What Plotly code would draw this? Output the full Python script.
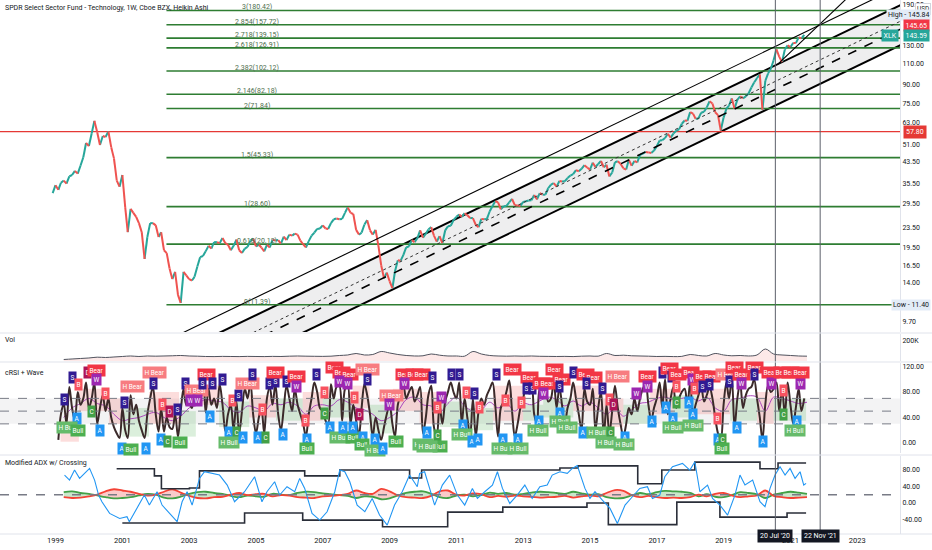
import numpy as np
import pandas as pd
import plotly.graph_objects as go

# ---- XLK weekly Heikin Ashi (one value per month) ----
price_start = '1998-12-01'
price = [32.5,
         35.0, 33.5, 35.8, 36.5, 35.5, 38.0, 38.5, 40.0, 39.0, 42.0, 45.5, 52.0,
         50.5, 57.0, 64.0, 57.5, 51.0, 55.5, 55.0, 58.0, 50.0, 45.0, 36.5, 34.5,
         38.5, 28.5, 22.5, 28.0, 27.0, 26.0, 24.5, 22.5, 17.5, 21.5, 24.5, 24.5,
         24.0, 21.5, 22.5, 19.0, 18.5, 16.0, 14.5, 15.5, 12.5, 11.6, 15.5, 15.0,
         14.5, 14.3, 14.8, 16.3, 17.8, 18.0, 18.8, 19.8, 19.3, 20.5, 20.5, 20.3,
         21.3, 20.3, 20.0, 19.0, 19.8, 21.0, 19.0, 18.5, 19.3, 19.6, 20.8, 21.2,
         19.7, 20.0, 19.5, 18.8, 20.0, 19.5, 21.0, 20.8, 20.9, 20.2, 21.6, 20.9,
         22.0, 21.8, 22.2, 22.0, 20.8, 20.1, 19.5, 20.7, 21.8, 22.4, 23.2, 23.3,
         24.0, 23.3, 23.2, 24.5, 25.4, 25.6, 25.4, 25.5, 27.0, 28.4, 27.0, 26.7,
         23.0, 22.0, 22.4, 24.2, 25.2, 22.9, 22.0, 23.0, 19.8, 16.5, 14.6, 15.4,
         14.2, 13.3, 15.6, 17.3, 17.2, 18.2, 19.5, 19.7, 20.9, 20.5, 21.3, 22.9,
         21.4, 22.2, 23.1, 23.6, 21.8, 20.6, 21.7, 20.3, 22.9, 23.8, 23.9, 25.2,
         26.0, 26.6, 26.0, 26.9, 26.4, 25.7, 25.7, 24.1, 23.6, 25.5, 25.4, 25.5,
         27.4, 28.8, 30.1, 29.8, 27.9, 28.7, 28.8, 29.8, 30.8, 29.0, 28.9, 28.8,
         29.9, 30.1, 30.3, 30.4, 31.9, 30.6, 32.5, 32.0, 32.0, 34.0, 35.2, 35.7,
         34.5, 36.4, 36.2, 36.3, 37.4, 38.3, 38.8, 40.3, 39.9, 40.8, 42.2, 41.3,
         40.5, 43.2, 41.5, 42.7, 43.9, 41.4, 42.4, 38.0, 39.4, 43.4, 43.8, 42.8,
         41.0, 40.5, 44.4, 42.0, 43.9, 43.3, 46.5, 47.1, 47.8, 47.6, 47.3, 48.4,
         50.4, 53.3, 53.3, 54.5, 56.7, 54.7, 56.8, 58.3, 59.1, 62.3, 64.2, 64.0,
         69.5, 68.5, 65.3, 65.5, 69.1, 69.7, 72.6, 76.9, 75.3, 69.4, 67.5, 58.5,
         66.0, 71.8, 73.8, 79.0, 71.7, 78.1, 80.5, 79.1, 80.5, 82.7, 87.5, 91.7,
         95.5, 99.0, 71.0, 93.2, 99.7, 104.5, 113.0, 125.3, 116.7, 111.3, 125.0, 130.0,
         128.0, 133.0, 132.8, 140.0, 138.8, 143.6]

# Fibonacci extension levels
fib_ratio = ['3', '2.854', '2.718', '2.618', '2.382', '2.146', '2', '1.5', '1', '0.618', '0']
fib_price = [180.42, 157.72, 139.15, 126.91, 102.12, 82.18, 71.84, 45.33, 28.60, 20.12, 11.39]
fib_start = '2002-04-28'
fib_label_date = '2005-01-08'
red_level = 57.80

# price axis ticks
price_ticks = [9.70, 14.00, 16.50, 19.50, 23.50, 29.50, 35.50, 43.50, 51.00, 63.00,
               75.00, 90.00, 110.00, 130.00, 190.00]

# regression channel (anchor dates / prices of the drawing)
chan_dates = ['2003-04-23', '2025-10-13']
chan_upper = [8.0, 237.3]
chan_lower = [5.49, 162.9]
chan_dotted = [6.88, 204.1]
chan_dashed = [6.38, 189.3]
outer_dates = ['2002-05-31', '2025-10-13']
outer_price = [8.24, 284.1]
steep_dates = ['2020-08-17', '2023-09-07']
steep_price = [109.0, 271.8]

marker_dates = ['2020-07-20', '2021-11-22']
marker_text = ["20 Jul '20", "22 Nov '21"]

# ---- Volume (quarterly, thousands) ----
vol_k = [15, 20, 25,
         30, 38, 35, 40, 45, 50, 45, 50, 48, 50, 52, 55, 50, 48, 45, 44,
         46, 45, 44, 46, 45, 44, 46, 45, 48, 50, 48, 47, 46, 48, 55, 60,
         75, 60, 65, 95, 80, 65, 55, 50, 52, 70, 58, 50, 50, 48, 95, 70,
         55, 50, 48, 50, 48, 50, 47, 46, 45, 46, 44, 48, 50, 48, 75, 55,
         58, 52, 50, 48, 45, 46, 44, 46, 65, 55, 50, 75, 60, 52, 55, 50,
         60, 120, 70, 60, 55, 50, 48]

# ---- cRSI (monthly) ----
crsi_start = '1999-02-01'
crsi = [5, 45, 62, 30, 88, 55, 35, 80, 60, 70, 95,
        55, 70, 95, 30, 55, 75, 50, 70, 40, 25, 15, 8,
        55, 20, 8, 75, 45, 60, 35, 20, 8, 45, 70, 88,
        45, 18, 55, 18, 40, 25, 22, 45, 10, 50, 85, 60,
        62, 55, 72, 60, 88, 92, 48, 85, 60, 70, 55, 92,
        60, 18, 45, 60, 20, 65, 15, 50, 85, 70, 95, 45,
        15, 40, 55, 15, 70, 88, 60, 92, 45, 20, 55, 90,
        70, 50, 85, 60, 45, 30, 10, 45, 70, 95, 80, 55,
        50, 35, 30, 92, 70, 88, 90, 35, 85, 92, 30, 60,
        35, 12, 55, 92, 75, 45, 10, 40, 20, 5, 25, 45,
        60, 30, 10, 60, 75, 90, 70, 80, 88, 65, 75, 88,
        15, 40, 75, 90, 25, 10, 60, 30, 65, 80, 95, 80,
        70, 95, 30, 70, 40, 10, 70, 10, 50, 70, 60, 75,
        85, 95, 60, 10, 55, 65, 80, 98, 50, 10, 30, 55,
        70, 88, 85, 88, 45, 30, 85, 80, 88, 65, 70, 98,
        55, 88, 60, 30, 55, 70, 95, 70, 45, 20, 85, 65,
        60, 85, 20, 55, 80, 10, 60, 15, 50, 90, 55, 30,
        10, 30, 55, 45, 70, 50, 70, 85, 92, 60, 35, 55,
        70, 95, 55, 100, 45, 70, 88, 55, 70, 80, 85, 60,
        95, 45, 60, 75, 90, 65, 75, 88, 70, 40, 15, 5,
        60, 95, 70, 100, 25, 70, 95, 55, 75, 85, 88, 100,
        70, 40, 5, 60, 90, 80, 85, 95, 50, 85, 45, 95,
        60, 30, 55, 85, 50, 70]

# purple average (quarterly)
crsi_avg = [40, 55, 62,
            70, 62, 58, 45, 35, 38, 40, 45, 48, 40, 35, 42, 55, 62, 68, 66,
            64, 52, 48, 58, 55, 50, 62, 60, 64, 58, 45, 58, 60, 58, 68, 64,
            55, 52, 45, 35, 40, 50, 68, 72, 60, 58, 48, 62, 72, 58, 50, 52,
            64, 55, 62, 50, 62, 60, 66, 72, 68, 58, 66, 58, 64, 55, 45, 55,
            42, 52, 62, 64, 70, 72, 68, 70, 72, 66, 72, 55, 50, 68, 70, 74,
            72, 50, 72, 70, 66, 62, 64]

# wave band segments (decimal years)
band_start = [1999.15, 1999.70, 2000.60, 2001.00, 2001.80, 2002.70, 2003.20, 2003.90,
              2004.80, 2005.60, 2006.40, 2007.00, 2007.90, 2008.40, 2009.10, 2009.90,
              2010.50, 2011.10, 2012.10, 2013.00, 2013.60, 2014.50, 2015.40, 2016.00,
              2016.80, 2017.50, 2018.20, 2019.20, 2020.00, 2020.50]
band_end = [1999.70, 2000.60, 2001.00, 2001.80, 2002.70, 2003.20, 2003.90, 2004.80,
            2005.60, 2006.40, 2007.00, 2007.90, 2008.40, 2009.10, 2009.90, 2010.50,
            2011.10, 2012.10, 2013.00, 2013.60, 2014.50, 2015.40, 2016.00, 2016.80,
            2017.50, 2018.20, 2019.20, 2020.00, 2020.50, 2021.47]
band_top = [35, 85, 70, 55, 80, 50, 90, 65, 75, 70, 80, 70, 90, 60, 85,
            80, 65, 55, 90, 60, 70, 90, 70, 60, 85, 75, 85, 70, 80, 70]
band_bot = [2, 50, 30, 10, 30, 10, 60, 25, 40, 35, 35, 40, 55, 15, 50,
            30, 25, 20, 35, 35, 40, 50, 25, 30, 45, 40, 45, 35, 30, 35]
band_kind = ['r', 'r', 'r', 'g', 'r', 'g', 'r', 'g', 'r', 'g', 'r', 'g', 'r', 'g', 'r',
             'r', 'g', 'g', 'r', 'g', 'g', 'r', 'r', 'g', 'r', 'g', 'r', 'g', 'r', 'g']

# signal labels on cRSI (decimal year, level, text)
sig_year = [1999.27, 1999.51, 1999.69, 1999.96, 2000.23, 2000.23, 2000.50, 2000.08, 1999.63, 1999.33,
            1999.66, 2000.32, 2001.07, 2001.30, 2001.00, 2001.27, 2001.72, 2001.96, 2001.93, 2002.20,
            2002.41, 2002.65, 2002.17, 2002.35, 2002.74, 2002.89, 2003.22, 2003.04, 2003.25, 2003.52,
            2003.40, 2003.70, 2003.61, 2004.00, 2004.30, 2004.48, 2004.75, 2004.90, 2005.20, 2004.18,
            2004.42, 2004.18, 2004.60, 2005.05, 2005.29, 2005.41, 2005.59, 2005.59, 2005.92, 2006.22,
            2006.22, 2005.80, 2006.49, 2006.52, 2006.52, 2006.82, 2007.06, 2007.06, 2007.21, 2007.36,
            2007.57, 2007.81, 2007.51, 2007.75, 2007.96, 2008.11, 2007.51, 2007.90, 2007.60, 2007.90,
            2008.20, 2008.17, 2008.35, 2008.35, 2008.56, 2008.56, 2008.79, 2009.06, 2009.00, 2009.18,
            2009.45, 2009.75, 2009.45, 2009.99, 2009.96, 2010.29, 2010.56, 2010.44, 2010.11, 2010.44,
            2010.50, 2010.11, 2010.86, 2011.10, 2011.31, 2011.55, 2011.70, 2011.19, 2011.16, 2011.46,
            2011.64, 2012.21, 2012.69, 2012.48, 2012.96, 2012.39, 2012.36, 2012.84, 2012.84, 2013.20,
            2013.11, 2013.29, 2013.56, 2013.74, 2013.62, 2013.95, 2014.16, 2014.10, 2014.52, 2013.47,
            2013.44, 2014.10, 2014.10, 2014.31, 2014.88, 2015.12, 2014.91, 2015.36, 2014.79, 2015.21,
            2015.60, 2015.48, 2015.57, 2015.69, 2015.81, 2016.04, 2016.01, 2016.40, 2016.73, 2016.73,
            2016.85, 2017.18, 2017.39, 2017.45, 2017.63, 2017.60, 2017.27, 2017.60, 2017.48, 2017.48,
            2018.02, 2018.08, 2018.14, 2017.96, 2018.08, 2018.08, 2018.38, 2018.65, 2018.38, 2018.59,
            2019.13, 2019.19, 2019.34, 2019.55, 2019.55, 2019.94, 2019.94, 2020.39, 2020.42, 2018.83,
            2018.83, 2018.98, 2018.95, 2019.40, 2020.18, 2020.78, 2020.78, 2020.75, 2020.99, 2021.29,
            2021.20, 2021.14, 2021.29]
sig_val = [69, 102, 91, 110, 114, 100, 78, 49, 38, 24,
           20, 20, 64, 89, -9, -11, -8, 110, 94, 60,
           49, 53, 5, 3, 0, 94, 83, 66, 66, 107,
           93, 93, 41, 99, 66, 74, 93, 107, 53, 16,
           16, 0, 8, 9, 9, 93, 97, 111, 97, 105,
           88, 13, 35, 5, -9, 108, 80, 47, 25, 119,
           111, 108, 96, 93, 71, 44, 9, 8, 24, 24,
           9, -3, 115, 99, 5, -12, -9, 74, 60, 3,
           107, 107, 93, -3, 107, 102, 71, 55, 16, 11,
           -5, -5, 107, 108, 80, 78, 56, 28, 13, 2,
           6, 108, 116, 67, 63, 5, -9, 5, -9, 102,
           85, 85, 94, 94, 78, 116, 100, 89, 110, 33,
           19, 47, 33, 25, 107, 102, 93, 85, 17, 17,
           17, 0, 69, 60, 104, 9, -3, 78, 104, 88,
           33, 110, 117, 104, 108, 89, 56, 63, 39, 24,
           110, 99, 86, 63, 44, 28, 105, 105, 89, 91,
           108, 96, 119, 108, 94, 119, 107, 110, 94, 38,
           5, 5, -9, 24, 2, 83, 44, 110, 110, 93,
           33, 19, 110]
sig_txt = ['S', 'S', 'B', 'D', 'Bear', 'W', 'B', 'C', 'A', 'H Bull',
           'Bull', 'A', 'S', 'H Bear', 'A', 'Bull', 'A', 'H Bear', 'S', 'B',
           'D', 'S', 'A', 'C', 'Bull', 'S', 'H Bear', 'W', 'W', 'Bear',
           'S', 'S', 'A', 'S', 'B', 'S', 'H Bear', 'S', 'B', 'A',
           'C', 'H Bull', 'A', 'A', 'C', 'S', 'S', 'Bear', 'S', 'Bear',
           'W', 'A', 'B', 'A', 'Bull', 'S', 'B', 'C', 'A', 'Bear',
           'Bear', 'Bear', 'W', 'W', 'B', 'D', 'H Bull', 'Bull', 'A', 'A',
           'A', 'Bull', 'H Bear', 'S', 'A', 'H Bull', 'A', 'H Bear', 'W', 'Bull',
           'Bear', 'Bear', 'W', 'H Bull', 'Bear', 'S', 'W', 'B', 'A', 'C',
           'Bull', 'H Bull', 'S', 'S', 'B', 'S', 'B', 'A', 'H Bull', 'A',
           'A', 'S', 'Bear', 'B', 'B', 'A', 'H Bull', 'A', 'H Bull', 'Bear',
           'S', 'S', 'Bear', 'Bear', 'W', 'Bear', 'Bear', 'S', 'S', 'A',
           'H Bull', 'A', 'H Bull', 'H Bull', 'Bear', 'Bear', 'S', 'S', 'A', 'H Bull',
           'C', 'H Bull', 'B', 'D', 'H Bear', 'A', 'H Bull', 'W', 'Bear', 'W',
           'A', 'S', 'Bear', 'S', 'Bear', 'B', 'A', 'C', 'A', 'H Bull',
           'Bear', 'W', 'B', 'A', 'A', 'H Bull', 'Bear', 'Bear', 'S', 'S',
           'H Bear', 'S', 'Bear', 'Bear', 'W', 'Bear', 'S', 'Bear', 'W', 'B',
           'A', 'C', 'Bull', 'A', 'A', 'B', 'C', 'Bear', 'Bear', 'W',
           'A', 'H Bull', 'Bear']

# ---- Modified ADX w/ Crossing ----
adx_year = [1999.27, 1999.42, 1999.57, 1999.72, 1999.87, 2000.02, 2000.17, 2000.29, 2000.39, 2000.62,
            2000.92, 2001.14, 2001.21, 2001.44, 2001.66, 2001.81, 2002.04, 2002.19, 2002.41, 2002.64,
            2002.79, 2002.94, 2003.09, 2003.31, 2003.46, 2003.69, 2003.91, 2004.14, 2004.36, 2004.66,
            2004.96, 2005.18, 2005.33, 2005.56, 2005.71, 2005.93, 2006.16, 2006.31, 2006.46, 2006.68,
            2006.91, 2007.13, 2007.36, 2007.51, 2007.66, 2007.81, 2008.03, 2008.26, 2008.48, 2008.70,
            2008.93, 2009.15, 2009.38, 2009.60, 2009.83, 2009.90, 2010.05, 2010.20, 2010.35, 2010.58,
            2010.80, 2011.03, 2011.25, 2011.48, 2011.63, 2011.85, 2012.08, 2012.23, 2012.38, 2012.60,
            2012.82, 2013.05, 2013.27, 2013.50, 2013.72, 2013.87, 2014.10, 2014.32, 2014.47, 2014.62,
            2014.85, 2015.00, 2015.15, 2015.37, 2015.60, 2015.82, 2016.05, 2016.27, 2016.49, 2016.72,
            2016.87, 2017.09, 2017.24, 2017.47, 2017.77, 2017.99, 2018.14, 2018.29, 2018.52, 2018.67,
            2018.89, 2019.12, 2019.34, 2019.49, 2019.64, 2019.87, 2020.09, 2020.24, 2020.39, 2020.54,
            2020.69, 2020.84, 2020.99, 2021.14, 2021.29, 2021.40, 2021.47]
adx_blue = [67, 55, 79, 59, 71, 83, 55, 19, 3, -25,
            -37, -33, -45, -13, 19, -5, 27, -5, -25, -45,
            3, 27, -5, 59, 75, 71, 67, 43, 3, 27,
            63, 3, 27, 51, 19, 39, 27, 59, 35, -25,
            -41, -21, 27, 79, 75, 51, -5, -21, 11, -29,
            -53, -5, 27, 67, 39, 71, 75, 35, -5, 43,
            67, 19, -5, 35, 11, 27, 43, 75, 35, -1,
            19, 43, 11, 39, 43, 67, 75, 71, 83, 90,
            35, 11, 27, 7, -13, -49, -5, 15, 35, 39,
            11, 19, 63, 87, 95, 79, 99, 27, 43, 11,
            -5, -29, 19, 67, 43, 55, 3, -9, 35, 67,
            87, 67, 83, 59, 75, 43, 47]

env_up_year = [2000.83, 2001.96, 2002.17, 2003.01, 2003.31, 2006.46, 2007.51, 2009.60, 2009.96,
               2014.10, 2014.64, 2016.43, 2017.15, 2018.14, 2020.09, 2020.63, 2021.47]
env_up = [82, 65, 34, 36, 77, 65, 79, 60, 79, 84, 89, 46, 79, 98, 82, 96, 96]
env_lo_year = [2001.00, 2004.66, 2006.40, 2008.79, 2010.74, 2012.39, 2014.91, 2015.55,
               2017.60, 2018.89, 2020.90, 2021.47]
env_lo = [-48, -24, -41, -57, -22, -10, 0, -52, 2, -34, -24, -24]

# red / green directional lines (quarterly)
di_red = [14, 12, 13,
          16, 20, 28, 33, 30, 27, 22, 18, 20, 27, 33, 25, 17, 12, 11, 14,
          15, 20, 24, 19, 21, 22, 16, 19, 18, 14, 13, 12, 16, 17, 19, 22,
          30, 24, 22, 34, 28, 18, 14, 13, 12, 17, 28, 30, 20, 18, 23, 21,
          14, 17, 15, 18, 16, 15, 13, 14, 15, 17, 13, 16, 18, 16, 24, 31,
          29, 19, 14, 17, 14, 12, 13, 12, 14, 20, 16, 22, 24, 18, 14, 16,
          18, 30, 17, 14, 12, 13, 14]
di_green = [26, 28, 24,
            22, 18, 14, 11, 12, 14, 18, 22, 20, 13, 11, 15, 22, 26, 27, 24,
            22, 17, 14, 18, 16, 15, 22, 20, 19, 24, 27, 26, 23, 21, 19, 17,
            12, 16, 15, 9, 11, 18, 24, 27, 28, 22, 14, 12, 18, 20, 16, 19,
            25, 22, 24, 20, 22, 25, 27, 26, 24, 22, 27, 23, 20, 21, 14, 11,
            12, 18, 24, 21, 26, 29, 28, 27, 24, 16, 21, 15, 14, 19, 26, 24,
            21, 12, 20, 24, 27, 25, 22]

label_colors = {'Bear': '#f23645', 'H Bear': '#f77c80', 'Bull': '#4caf50', 'H Bull': '#66bb6a',
                'A': '#2196f3', 'S': '#311b92', 'B': '#f7525f', 'C': '#43a047',
                'W': '#9c27b0', 'D': '#ad1457'}


def yr2dt(y):
    return pd.Timestamp('1999-01-01') + pd.to_timedelta((y - 1999) * 365.25, unit='D')


fig = go.Figure()

# ---- main pane ----
fig.add_trace(go.Scatter(x=chan_dates, y=chan_lower, mode='lines',
                         line=dict(color='black', width=2), yaxis='y'))
fig.add_trace(go.Scatter(x=chan_dates, y=chan_upper, mode='lines', fill='tonexty',
                         fillcolor='rgba(120,123,134,0.13)',
                         line=dict(color='black', width=2), yaxis='y'))

for r, p in zip(fib_ratio, fib_price):
    fig.add_trace(go.Scatter(x=[fib_start, '2024-12-31'], y=[p, p], mode='lines',
                             line=dict(color='#2e7d32', width=1.6), yaxis='y'))
fig.add_trace(go.Scatter(x=['1997-01-01', '2024-12-31'], y=[red_level, red_level], mode='lines',
                         line=dict(color='#e53935', width=1.2), yaxis='y'))

# price: up segments teal, down segments red
p_dates = pd.date_range(price_start, periods=len(price), freq='MS')
up_x, up_y, dn_x, dn_y = [], [], [], []
for i in range(1, len(price)):
    seg_x = [p_dates[i - 1], p_dates[i], None]
    seg_y = [price[i - 1], price[i], None]
    if price[i] >= price[i - 1]:
        up_x += seg_x
        up_y += seg_y
    else:
        dn_x += seg_x
        dn_y += seg_y
fig.add_trace(go.Scatter(x=up_x, y=up_y, mode='lines', line=dict(color='#26a69a', width=2), yaxis='y'))
fig.add_trace(go.Scatter(x=dn_x, y=dn_y, mode='lines', line=dict(color='#ef5350', width=2), yaxis='y'))

fig.add_trace(go.Scatter(x=chan_dates, y=chan_dotted, mode='lines',
                         line=dict(color='#333333', width=1, dash='dot'), yaxis='y'))
fig.add_trace(go.Scatter(x=chan_dates, y=chan_dashed, mode='lines',
                         line=dict(color='black', width=1.6, dash='dash'), yaxis='y'))
fig.add_trace(go.Scatter(x=outer_dates, y=outer_price, mode='lines',
                         line=dict(color='black', width=1.1), yaxis='y'))
fig.add_trace(go.Scatter(x=steep_dates, y=steep_price, mode='lines',
                         line=dict(color='black', width=1.1), yaxis='y'))

# ---- volume pane ----
q_dates = pd.date_range('1999-04-01', periods=len(vol_k), freq='QS')
fig.add_trace(go.Scatter(x=q_dates, y=[v * 1000 for v in vol_k], mode='lines', fill='tozeroy',
                         fillcolor='rgba(239,83,80,0.13)', line=dict(color='#50535e', width=1),
                         line_shape='spline', yaxis='y2'))

# ---- cRSI pane ----
fig.add_trace(go.Bar(x=[yr2dt((s + e) / 2) for s, e in zip(band_start, band_end)],
                     y=[t - b for t, b in zip(band_top, band_bot)], base=band_bot,
                     width=[(e - s) * 365.25 * 86400000 for s, e in zip(band_start, band_end)],
                     marker=dict(color=['rgba(239,83,80,0.2)' if k == 'r' else 'rgba(76,175,80,0.2)'
                                        for k in band_kind], line=dict(width=0)),
                     yaxis='y3'))
avg_dates = pd.date_range('1999-04-01', periods=len(crsi_avg), freq='QS')
fig.add_trace(go.Scatter(x=avg_dates, y=crsi_avg, mode='lines', line_shape='spline',
                         line=dict(color='#ab47bc', width=1), yaxis='y3'))
c_dates = pd.date_range(crsi_start, periods=len(crsi), freq='MS')
fig.add_trace(go.Scatter(x=c_dates, y=crsi, mode='lines', line_shape='spline',
                         line=dict(color='#3b2a2a', width=2), yaxis='y3'))

# ---- ADX pane ----
d_dates = pd.date_range('1999-04-01', periods=len(di_red), freq='QS')
di_max = [max(r, g) for r, g in zip(di_red, di_green)]
fig.add_trace(go.Scatter(x=d_dates, y=di_green, mode='lines', line=dict(width=0), line_shape='spline', yaxis='y4'))
fig.add_trace(go.Scatter(x=d_dates, y=di_max, mode='lines', line=dict(width=0), line_shape='spline',
                         fill='tonexty', fillcolor='rgba(239,83,80,0.3)', yaxis='y4'))
fig.add_trace(go.Scatter(x=d_dates, y=di_red, mode='lines', line=dict(width=0), line_shape='spline', yaxis='y4'))
fig.add_trace(go.Scatter(x=d_dates, y=di_max, mode='lines', line=dict(width=0), line_shape='spline',
                         fill='tonexty', fillcolor='rgba(76,175,80,0.3)', yaxis='y4'))
fig.add_trace(go.Scatter(x=d_dates, y=di_green, mode='lines', line_shape='spline',
                         line=dict(color='#43a047', width=1.8), yaxis='y4'))
fig.add_trace(go.Scatter(x=d_dates, y=di_red, mode='lines', line_shape='spline',
                         line=dict(color='#f44336', width=1.8), yaxis='y4'))
fig.add_trace(go.Scatter(x=[yr2dt(y) for y in env_up_year], y=env_up, mode='lines', line_shape='hv',
                         line=dict(color='#2a2e39', width=1.6), yaxis='y4'))
fig.add_trace(go.Scatter(x=[yr2dt(y) for y in env_lo_year], y=env_lo, mode='lines', line_shape='hv',
                         line=dict(color='#2a2e39', width=1.6), yaxis='y4'))
fig.add_trace(go.Scatter(x=[yr2dt(y) for y in adx_year], y=adx_blue, mode='lines',
                         line=dict(color='#2196f3', width=1.1), yaxis='y4'))

# ---- shapes ----
shapes = []
for d in marker_dates:
    shapes.append(dict(type='line', xref='x', yref='paper', x0=d, x1=d, y0=0, y1=1,
                       line=dict(color='#5d606b', width=1)))
shapes.append(dict(type='rect', xref='paper', yref='y3', x0=0, x1=1, y0=30, y1=70,
                   fillcolor='rgba(120,123,134,0.09)', line=dict(width=0), layer='below'))
for lv in [30, 50, 70]:
    shapes.append(dict(type='line', xref='paper', yref='y3', x0=0, x1=1, y0=lv, y1=lv,
                       line=dict(color='#787b86', width=1, dash='dash')))
shapes.append(dict(type='line', xref='paper', yref='y4', x0=0, x1=1, y0=20, y1=20,
                   line=dict(color='#787b86', width=1.5, dash='dash')))
for yy in [0.3764, 0.3221, 0.1479, 0.0]:
    shapes.append(dict(type='line', xref='paper', yref='paper', x0=0, x1=1.04, y0=yy, y1=yy,
                       line=dict(color='#e0e3eb', width=1)))

# ---- annotations ----
ann = []
for r, p in zip(fib_ratio, fib_price):
    ann.append(dict(x=fib_label_date, y=np.log10(p), xref='x', yref='y', yanchor='bottom',
                    text=f'{r}({p:.2f})', showarrow=False, yshift=-3,
                    font=dict(size=7, color='#4e6e4e')))

for yr, v, t in zip(sig_year, sig_val, sig_txt):
    ann.append(dict(x=yr2dt(yr), y=v, xref='x', yref='y3', text=t, showarrow=False,
                    bgcolor=label_colors[t], borderpad=1.5,
                    font=dict(size=6.5, color='white')))

ann.append(dict(x=0.003, y=0.985, xref='paper', yref='paper', xanchor='left', yanchor='middle',
                text='SPDR Select Sector Fund - Technology, 1W, Cboe BZX, Heikin Ashi',
                showarrow=False, font=dict(size=7, color='#131722')))
for txt, yy in [('Vol', 0.3745 - 0.012), ('cRSI + Wave', 0.3202 - 0.018), ('Modified ADX w/ Crossing', 0.1461 - 0.013)]:
    ann.append(dict(x=0.003, y=yy, xref='paper', yref='paper', xanchor='left', yanchor='middle',
                    text=txt, showarrow=False, font=dict(size=7, color='#131722')))

for d, t in zip(marker_dates, marker_text):
    ann.append(dict(x=d, y=-0.016, xref='x', yref='paper', text=t, showarrow=False,
                    bgcolor='#131722', borderpad=2, font=dict(size=7, color='white')))

# right-hand price tags
ann.append(dict(x=1.035, y=1.0, xref='paper', yref='paper', xanchor='right', yanchor='top', yshift=-3,
                text='USD', showarrow=False, bgcolor='white', bordercolor='#d1d4dc', borderpad=1,
                font=dict(size=6.5, color='#131722')))
ann.append(dict(x=1.035, y=np.log10(145.84), xref='paper', yref='y', xanchor='right', yshift=18,
                text='High - 145.84', showarrow=False, bgcolor='#e3ecf7', borderpad=1,
                font=dict(size=7, color='#131722')))
ann.append(dict(x=1.003, y=np.log10(145.65), xref='paper', yref='y', xanchor='left', yshift=8,
                text='145.65', showarrow=False, bgcolor='#f23645', borderpad=1.5,
                font=dict(size=7, color='white')))
ann.append(dict(x=0.999, y=np.log10(143.59), xref='paper', yref='y', xanchor='right', yshift=-1,
                text='XLK', showarrow=False, bgcolor='#26a69a', borderpad=1.5,
                font=dict(size=7, color='white')))
ann.append(dict(x=1.003, y=np.log10(143.59), xref='paper', yref='y', xanchor='left', yshift=-1,
                text='143.59', showarrow=False, bgcolor='#26a69a', borderpad=1.5,
                font=dict(size=7, color='white')))
ann.append(dict(x=1.003, y=np.log10(red_level), xref='paper', yref='y', xanchor='left',
                text=f'{red_level:.2f}', showarrow=False, bgcolor='#e53935', borderpad=2,
                font=dict(size=7, color='white')))
ann.append(dict(x=1.035, y=np.log10(11.40), xref='paper', yref='y', xanchor='right',
                text='Low - 11.40', showarrow=False, bgcolor='#e3ecf7', borderpad=1,
                font=dict(size=7, color='#131722')))

axis_font = dict(size=7, color='#131722')
year_ticks = [f'{y}-01-01' for y in range(1999, 2024, 2)]

fig.update_layout(
    width=932, height=550,
    margin=dict(l=0, r=32, t=0, b=16),
    paper_bgcolor='white', plot_bgcolor='white',
    showlegend=False, barmode='overlay',
    font=dict(family='Roboto, DejaVu Sans', color='#131722'),
    xaxis=dict(domain=[0, 1], anchor='y4', type='date', range=['1997-05-04', '2024-04-13'],
               tickvals=year_ticks, ticktext=[t[:4] for t in year_ticks], tickfont=dict(size=7.5, color='#131722'),
               showgrid=False, zeroline=False, showline=False, ticks=''),
    yaxis=dict(domain=[0.3783, 1], anchor='x', side='right', type='log',
               range=[np.log10(8.82), np.log10(199)], tickvals=price_ticks,
               ticktext=[f'{v:.2f}' for v in price_ticks], tickfont=axis_font,
               showgrid=False, zeroline=False, showline=True, linecolor='#e0e3eb', ticks=''),
    yaxis2=dict(domain=[0.324, 0.3745], anchor='x', side='right', range=[0, 270000],
                tickvals=[200000], ticktext=['200K'], tickfont=axis_font,
                showgrid=False, zeroline=False, showline=True, linecolor='#e0e3eb', ticks=''),
    yaxis3=dict(domain=[0.1517, 0.3202], anchor='x', side='right', range=[-15.7, 125.5],
                tickvals=[0, 40, 80, 120], ticktext=['0.00', '40.00', '80.00', '120.00'], tickfont=axis_font,
                showgrid=False, zeroline=False, showline=True, linecolor='#e0e3eb', ticks=''),
    yaxis4=dict(domain=[0, 0.1461], anchor='x', side='right', range=[-74.4, 112.8],
                tickvals=[-40, 0, 40, 80], ticktext=['-40.00', '0.00', '40.00', '80.00'], tickfont=axis_font,
                showgrid=False, zeroline=False, showline=True, linecolor='#e0e3eb', ticks=''),
    shapes=shapes,
    annotations=ann,
)

# page body margin removed so the figure sits at the window's top-left corner, no modebar
fig.write_html("out.html", config={'displayModeBar': False},
               post_script="document.body.style.margin='0';")
